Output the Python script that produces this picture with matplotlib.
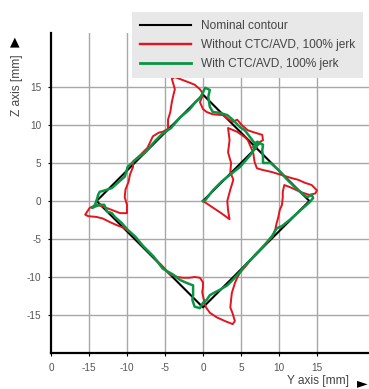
import matplotlib
matplotlib.use("Agg")
import matplotlib.pyplot as plt
from matplotlib.lines import Line2D

plt.rcParams["font.family"] = ["Liberation Sans", "DejaVu Sans"]

# ---------------- data (Y axis, Z axis in mm) ----------------
nominal_y = [0, 7, 14, 0, -14, 0, 7]
nominal_z = [0, 7, 0, -14, 0, 14, 7]

red_y = [0.0, 1.2, 2.4, 3.5, 3.3, 3.2, 3.6, 4.0, 3.6, 3.7, 3.3, 3.5, 3.3,
         4.5, 5.5, 5.9, 6.6, 6.8, 7.1, 7.8, 9.1, 10.4, 11.7, 12.5, 13.4, 14.3, 14.7, 15.0,
         14.8, 14.0, 12.8, 11.5, 10.7, 10.5, 10.5, 10.4, 10.1, 9.9, 9.7, 9.5, 9.2,
         8.5, 7.6, 6.8, 5.7, 4.9, 4.5, 4.2, 3.8, 3.7, 3.6, 3.9, 4.2, 3.9, 2.9, 1.8, 0.9,
         0.4, 0.2, 0.0, -0.1, 0.0, 0.0, -0.4, -1.1, -1.8, -2.6, -3.4, -4.3,
         -5.5, -6.5, -7.5, -8.5, -9.6, -10.5, -11.3, -12.2, -13.2, -14.0, -15.1, -15.5,
         -14.9, -14.0, -13.0, -12.2, -10.9, -10.0, -10.0, -10.3, -10.2, -9.8, -9.6, -9.2, -9.2,
         -8.2, -7.3, -6.6, -5.8, -5.3, -4.6, -4.6, -4.3, -4.1, -3.9, -3.7, -4.1,
         -3.7, -2.1, -1.1, -0.4, 0.0, -0.1, -0.4, 0.0, 0.5, 1.3, 2.6, 3.3, 3.9,
         4.5, 5.1, 5.9, 6.8, 7.8, 7.9, 7.2, 7.0]
red_z = [0.0, -0.8, -1.6, -2.4, -1.2, 0.0, 1.5, 2.8, 3.8, 5.0, 6.4, 8.0, 9.6,
         9.1, 8.4, 8.0, 6.4, 5.1, 4.3, 4.1, 3.8, 3.4, 3.0, 2.8, 2.4, 2.1, 1.7, 1.4,
         1.0, 0.8, 1.2, 1.8, 2.1, 1.2, 0.5, -0.5, -1.2, -2.2, -2.9, -3.8, -4.6,
         -5.4, -6.3, -7.1, -8.5, -9.4, -10.1, -10.8, -12.1, -13.0, -14.0, -14.8, -15.8, -16.2, -15.8, -15.3, -14.7,
         -14.0, -13.3, -12.5, -12.0, -11.3, -10.7, -10.1, -10.0, -10.1, -10.1, -10.0, -9.7,
         -8.4, -7.4, -6.4, -5.2, -4.1, -3.5, -3.2, -2.8, -2.3, -2.1, -2.0, -1.8,
         -0.9, -0.5, -0.8, -1.1, -1.6, -1.6, -0.5, 0.5, 1.5, 2.5, 3.5, 4.5, 5.2,
         6.1, 7.0, 8.5, 9.0, 9.1, 9.5, 10.7, 11.7, 13.0, 13.9, 14.7, 16.1,
         16.3, 15.7, 15.3, 14.7, 14.1, 13.7, 13.0, 12.1, 11.7, 11.4, 11.3, 10.8, 10.4,
         10.7, 10.0, 9.3, 9.0, 8.7, 8.0, 7.6, 7.0]

green_y = [0.0, 0.3, 1.3, 2.5, 3.5, 4.9, 6.2, 7.1, 7.5, 7.9, 7.8, 7.9, 7.9,
           8.9, 9.9, 10.9, 11.9, 12.9, 13.7, 14.3, 14.5, 14.1, 13.2,
           12.4, 11.4, 10.4, 9.7, 9.1, 8.0, 7.0, 5.8, 4.9, 3.9, 3.2, 2.2, 1.6, 0.9, 0.5, 0.0,
           -0.4, -1.1, -1.4, -1.3, -1.3, -2.1, -3.0, -3.9, -5.3, -6.5, -8.0, -8.9, -9.9, -10.7,
           -11.6, -12.0, -12.6, -13.0, -13.6, -14.6, -14.2, -13.9, -13.8, -13.6, -12.9, -12.0,
           -10.3, -9.9, -8.9, -7.6, -6.3, -5.4, -4.2, -3.0, -1.8, -0.9, -0.4, 0.3, 0.9, 0.7,
           0.9, 1.3, 2.2, 3.2, 3.9, 4.9, 5.5, 6.2, 6.8, 7.2, 6.6]
green_z = [0.0, 0.1, 1.4, 2.6, 3.4, 4.5, 6.0, 7.3, 7.6, 7.4, 6.6, 5.8, 5.0,
           5.0, 4.1, 3.0, 2.0, 1.1, 0.5, 0.8, 0.4, -0.1, -0.9,
           -1.6, -2.5, -3.3, -3.6, -4.6, -5.9, -7.0, -8.2, -9.3, -10.4, -11.1, -11.7, -12.0, -12.4, -13.0, -13.4,
           -14.1, -13.9, -13.0, -12.4, -11.1, -10.8, -10.4, -9.7, -8.9, -7.3, -5.8, -4.7, -3.8, -2.9,
           -2.1, -1.6, -1.4, -0.5, -0.5, -0.9, -0.5, 0.4, 0.8, 1.2, 1.4, 1.7,
           3.2, 4.5, 5.4, 6.4, 7.9, 8.8, 9.6, 11.0, 12.0, 13.1, 13.5, 14.9, 14.6, 13.7,
           12.4, 11.7, 11.6, 11.3, 10.7, 9.7, 9.3, 8.4, 7.6, 7.8, 7.1]

x_ticks = [-20, -15, -10, -5, 0, 5, 10, 15]
x_ticklabels = ["0", "-15", "-10", "-5", "0", "5", "10", "15"]
y_ticks = [-15, -10, -5, 0, 5, 10, 15]
y_ticklabels = ["-15", "-10", "-5", "0", "5", "10", "15"]

legend_labels = ["Nominal contour", "Without CTC/AVD, 100% jerk", "With CTC/AVD, 100% jerk"]

# ---------------- figure ----------------
W, H = 369, 389
fig = plt.figure(figsize=(W / 100, H / 100), dpi=100)
ax = fig.add_axes([51 / W, (H - 353) / H, (W - 51) / W, (353 - 33) / H])
ax.set_xlim(-20, 21.85)
ax.set_ylim(-20, 22.1)

grid_c = "#a8a8a8"
for v in y_ticks:
    ax.axhline(v, color=grid_c, lw=1.0, zorder=0)
for v in x_ticks[1:]:
    ax.axvline(v, color=grid_c, lw=1.0, zorder=0)

red = "#e2141e"
green = "#0a9444"
ax.plot(nominal_y, nominal_z, color="black", lw=1.5, zorder=2)
ax.plot(red_y, red_z, color=red, lw=1.4, zorder=3, solid_joinstyle="round")
ax.plot(green_y, green_z, color=green, lw=1.8, zorder=4, solid_joinstyle="round")

for s in ["top", "right"]:
    ax.spines[s].set_visible(False)
for s in ["left", "bottom"]:
    ax.spines[s].set_linewidth(1.6)
    ax.spines[s].set_color("black")

ax.set_xticks(x_ticks)
ax.set_xticklabels(x_ticklabels)
ax.set_yticks(y_ticks)
ax.set_yticklabels(y_ticklabels)
ax.tick_params(axis="both", labelsize=7.2, labelcolor="#555555", color="black",
               length=2.5, width=0.8, direction="out", pad=4.5)

# legend
handles = [Line2D([], [], color="black", lw=1.5),
           Line2D([], [], color=red, lw=1.7),
           Line2D([], [], color=green, lw=2.0)]
leg = fig.legend(handles, legend_labels, loc="upper left",
                 bbox_to_anchor=(132 / W, 1 - 12 / H), fontsize=8.6,
                 frameon=True, fancybox=False, handlelength=4.25,
                 handletextpad=0.9, borderpad=0.65, labelspacing=0.6,
                 borderaxespad=0)
frame = leg.get_frame()
frame.set_facecolor("#e8e8e8")
frame.set_edgecolor("none")
frame.set_alpha(1)
for t in leg.get_texts():
    t.set_color("#444444")

# axis labels with arrows
fig.text(17 / W, 1 - 85 / H, "Z axis [mm]", rotation=90, ha="center", va="center",
         fontsize=8.6, color="#444444")
fig.text(15 / W, 1 - 42 / H, "\u25B2", ha="center", va="center", fontsize=9,
         color="black", family="DejaVu Sans")
fig.text(349 / W, 1 - 381 / H, "Y axis [mm]", ha="right", va="center",
         fontsize=8.6, color="#444444")
fig.text(362 / W, 1 - 383 / H, "\u25BA", ha="center", va="center", fontsize=10,
         color="black", family="DejaVu Sans")

fig.savefig("out.png", dpi=100)
